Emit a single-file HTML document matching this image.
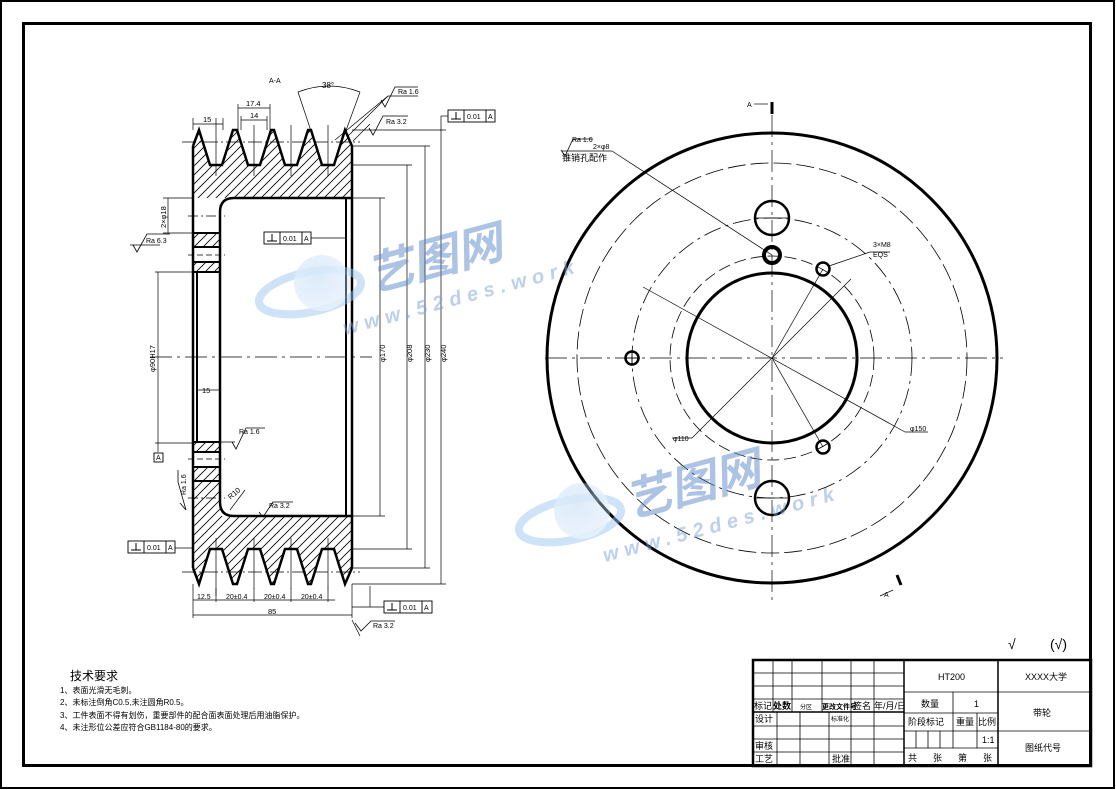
<!DOCTYPE html>
<html><head><meta charset="utf-8"><style>
html,body{margin:0;padding:0;background:#fff;}
svg{display:block;}
text{font-family:"Liberation Sans","Noto Sans CJK SC",sans-serif;fill:#000;}
.cn{font-family:"Liberation Sans","Noto Sans CJK SC",sans-serif;}
</style></head><body>
<svg width="1116" height="790" viewBox="0 0 1116 790" xmlns="http://www.w3.org/2000/svg">
<defs>
<pattern id="hs" width="9" height="9" patternUnits="userSpaceOnUse">
<path d="M0,9 L9,0 M-1,1 L1,-1 M8,10 L10,8" stroke="#000" stroke-width="0.8"/>
</pattern>
<pattern id="hb" width="9" height="9" patternUnits="userSpaceOnUse">
<path d="M0,0 L9,9 M-1,8 L1,10 M8,-1 L10,1" stroke="#000" stroke-width="0.8"/>
</pattern>
<radialGradient id="wg" cx="0.4" cy="0.4" r="0.6"><stop offset="0" stop-color="#a9cdf3"/><stop offset="1" stop-color="#cfe4fa"/></radialGradient>
</defs>
<rect x="1" y="1" width="1113" height="787" fill="none" stroke="#000" stroke-width="2"/>
<rect x="23.5" y="23.5" width="1067" height="742" fill="none" stroke="#000" stroke-width="3"/>

<!-- hatch top -->
<g fill="url(#hs)">
<path d="M193,198 L193,146 L199,130 L210,165 L222,165 L233,130 L237,130 L248,165 L260,165 L271,130 L274,130 L285,165 L297,165 L308,130 L311,130 L322,165 L334,165 L345,130 L352,146 L352,198 Z"/>
<rect x="193" y="233" width="27" height="14"/>
<rect x="193" y="262" width="27" height="10"/>
<path d="M193,516 L193,568 L199,584 L210,549 L222,549 L233,584 L237,584 L248,549 L260,549 L271,584 L274,584 L285,549 L297,549 L308,584 L311,584 L322,549 L334,549 L345,584 L352,568 L352,516 Z"/>
<rect x="193" y="467" width="27" height="49"/>
<rect x="193" y="442" width="27" height="10"/>
</g>
<g id="half">
<path d="M193,146 L199,130 L210,165 L222,165 L233,130 L237,130 L248,165 L260,165 L271,130 L274,130 L285,165 L297,165 L308,130 L311,130 L322,165 L334,165 L345,130 L352,146" fill="none" stroke="#000" stroke-width="2.5"/>
<line x1="193" y1="146" x2="193" y2="357" stroke="#000" stroke-width="2.5"/>
<line x1="352" y1="146" x2="352" y2="357" stroke="#000" stroke-width="2.5"/>
<line x1="346" y1="198" x2="346" y2="357" stroke="#000" stroke-width="2"/>
<path d="M220,357 L220,212 Q220,198 234,198 L352,198" fill="none" stroke="#000" stroke-width="2.5"/>
<line x1="193" y1="233" x2="220" y2="233" stroke="#000" stroke-width="2"/>
<line x1="193" y1="247" x2="220" y2="247" stroke="#000" stroke-width="2"/>
<line x1="193" y1="262" x2="220" y2="262" stroke="#000" stroke-width="2"/>
<line x1="193" y1="272" x2="220" y2="272" stroke="#000" stroke-width="2"/>
<line x1="197" y1="272" x2="197" y2="357" stroke="#000" stroke-width="2"/>
<line x1="188" y1="216" x2="225" y2="216" stroke="#000" stroke-width="0.7" stroke-dasharray="10,3,2,3"/>
<line x1="188" y1="255" x2="225" y2="255" stroke="#000" stroke-width="0.7" stroke-dasharray="6,3"/>
<line x1="182" y1="142" x2="360" y2="142" stroke="#000" stroke-width="0.7" stroke-dasharray="14,3,2,3"/>
<line x1="216" y1="118" x2="216" y2="176" stroke="#000" stroke-width="0.7"/>
<line x1="254" y1="125" x2="254" y2="176" stroke="#000" stroke-width="0.7"/>
<line x1="291" y1="125" x2="291" y2="176" stroke="#000" stroke-width="0.7"/>
<line x1="328" y1="125" x2="328" y2="176" stroke="#000" stroke-width="0.7"/>
</g>
<use href="#half" transform="matrix(1,0,0,-1,0,714)"/>
<line x1="193" y1="467" x2="220" y2="467" stroke="#000" stroke-width="2"/>
<line x1="150" y1="357" x2="372" y2="357" stroke="#000" stroke-width="0.7" stroke-dasharray="22,5,3,5"/>

<g stroke="#000" stroke-width="0.7" fill="none">
<line x1="352" y1="198" x2="385" y2="198"/><line x1="352" y1="516" x2="385" y2="516"/>
<line x1="380" y1="198" x2="380" y2="516"/>
<line x1="352" y1="165" x2="412" y2="165"/><line x1="352" y1="549" x2="412" y2="549"/>
<line x1="407" y1="165" x2="407" y2="549"/>
<line x1="352" y1="146" x2="430" y2="146"/><line x1="352" y1="568" x2="430" y2="568"/>
<line x1="425" y1="146" x2="425" y2="568"/>
<line x1="352" y1="130" x2="446" y2="130"/><line x1="352" y1="584" x2="446" y2="584"/>
<line x1="441" y1="130" x2="441" y2="584"/>
<line x1="441" y1="116" x2="441" y2="130"/><line x1="441" y1="116" x2="448" y2="116"/>
<line x1="158" y1="272" x2="158" y2="443"/><line x1="155" y1="272" x2="193" y2="272"/><line x1="155" y1="443" x2="193" y2="443"/>
<line x1="158" y1="443" x2="158" y2="452"/>
<line x1="168" y1="198" x2="168" y2="233"/><line x1="163" y1="198" x2="193" y2="198"/><line x1="163" y1="233" x2="193" y2="233"/>
<line x1="197" y1="390" x2="220" y2="390"/>
<line x1="193" y1="118" x2="193" y2="130"/><line x1="223" y1="118" x2="223" y2="130"/><line x1="193" y1="124" x2="223" y2="124"/>
<line x1="238" y1="104" x2="238" y2="130"/><line x1="270" y1="104" x2="270" y2="130"/><line x1="238" y1="108" x2="270" y2="108"/>
<line x1="241" y1="116" x2="241" y2="130"/><line x1="267" y1="116" x2="267" y2="130"/><line x1="241" y1="120" x2="267" y2="120"/>
<line x1="320" y1="158" x2="298" y2="92"/><line x1="336" y1="158" x2="360" y2="92"/>
<path d="M298,92 Q329,80 360,92"/>
<line x1="193" y1="584" x2="193" y2="618"/><line x1="352" y1="584" x2="352" y2="618"/>
<line x1="216" y1="588" x2="216" y2="602"/><line x1="254" y1="588" x2="254" y2="602"/><line x1="291" y1="588" x2="291" y2="602"/><line x1="328" y1="588" x2="328" y2="602"/>
<line x1="193" y1="600" x2="335" y2="600"/>
<line x1="193" y1="615" x2="352" y2="615"/>
<line x1="352" y1="607" x2="384" y2="607"/><line x1="370" y1="586" x2="370" y2="607"/>
<line x1="348" y1="136" x2="388" y2="96"/><line x1="335" y1="140" x2="388" y2="96"/><line x1="388" y1="96" x2="418" y2="96"/>
<line x1="353" y1="141" x2="370" y2="124"/><line x1="352" y1="620" x2="360" y2="636"/>
<line x1="130" y1="245" x2="160" y2="245"/>
<line x1="175" y1="548" x2="193" y2="548"/>
<line x1="311" y1="238" x2="345" y2="238"/>
<line x1="197" y1="442" x2="235" y2="442"/>
<line x1="230" y1="510" x2="245" y2="490"/>
</g>
<g fill="#000" font-size="7.5">
<text x="269" y="83" font-size="7">A-A</text>
<text x="322" y="88" font-size="8">38°</text>
<text x="203" y="122">15</text>
<text x="246" y="106">17.4</text>
<text x="250" y="118">14</text>
<text x="202" y="393">15</text>
<text transform="translate(385,362) rotate(-90)">φ170</text>
<text transform="translate(412,362) rotate(-90)">φ208</text>
<text transform="translate(430,362) rotate(-90)">φ230</text>
<text transform="translate(446,362) rotate(-90)">φ240</text>
<text transform="translate(155,372) rotate(-90)">φ90H17</text>
<text transform="translate(166,228) rotate(-90)">2×φ18</text>
<text x="197" y="599" font-size="7">12.5</text>
<text x="226" y="599" font-size="7">20±0.4</text>
<text x="264" y="599" font-size="7">20±0.4</text>
<text x="301" y="599" font-size="7">20±0.4</text>
<text x="268" y="614">85</text>
<text x="228" y="497" transform="rotate(-40,233,495)">R10</text>
</g>
<g stroke="#000" stroke-width="0.8" fill="none">
<path d="M381,100 L385,107 L395,87 L418,87"/><path d="M369,128 L373,135 L383,116 L408,116"/>
<path d="M133,245 L137,252 L147,234 L170,234"/>
<path d="M232,442 L236,449 L246,428 L265,428"/>
<path d="M259,512 L263,517 L273,502 L293,502"/>
<path d="M355,623 L361,631 L371,621 L395,621"/>
<path d="M180,503 L186,510 L178,482 L178,470"/>
</g>
<g font-size="7">
<text x="398" y="94">Ra 1.6</text><text x="386" y="124">Ra 3.2</text>
<text x="146" y="243">Ra 6.3</text><text x="239" y="434">Ra 1.6</text>
<text x="269" y="508">Ra 3.2</text><text x="373" y="628">Ra 3.2</text>
<text transform="translate(186,495) rotate(-90)">Ra 1.6</text>
</g>
<g stroke="#000" stroke-width="0.9" fill="#fff">
<rect x="448" y="110" width="47" height="12"/><line x1="464" y1="110" x2="464" y2="122"/><line x1="486" y1="110" x2="486" y2="122"/>
<rect x="264" y="232" width="47" height="12"/><line x1="280" y1="232" x2="280" y2="244"/><line x1="302" y1="232" x2="302" y2="244"/>
<rect x="128" y="541" width="47" height="12"/><line x1="144" y1="541" x2="144" y2="553"/><line x1="166" y1="541" x2="166" y2="553"/>
<rect x="384" y="601" width="48" height="12"/><line x1="400" y1="601" x2="400" y2="613"/><line x1="422" y1="601" x2="422" y2="613"/>
<rect x="154" y="453" width="9" height="9"/>
</g>
<g stroke="#000" stroke-width="1" fill="none">
<path d="M451,119 L461,119 M456,112 L456,119"/><path d="M267,241 L277,241 M272,234 L272,241"/>
<path d="M131,550 L141,550 M136,543 L136,550"/><path d="M387,610 L397,610 M392,603 L392,610"/>
</g>
<g font-size="7">
<text x="467" y="119">0.01</text><text x="488" y="119">A</text>
<text x="283" y="241">0.01</text><text x="304" y="241">A</text>
<text x="147" y="550">0.01</text><text x="168" y="550">A</text>
<text x="403" y="610">0.01</text><text x="424" y="610">A</text>
<text x="156" y="460">A</text>
</g>

<!-- ===== RIGHT VIEW ===== -->
<g fill="none" stroke="#000">
<circle cx="772" cy="358" r="225" stroke-width="3"/>
<circle cx="772" cy="358" r="195" stroke-width="0.8" stroke-dasharray="18,5"/>
<circle cx="772" cy="358" r="140" stroke-width="0.8" stroke-dasharray="18,5,3,5"/>
<circle cx="772" cy="358" r="102" stroke-width="0.8" stroke-dasharray="12,5"/>
<circle cx="772" cy="358" r="85" stroke-width="3"/>
<circle cx="772" cy="218" r="17" stroke-width="2.5"/>
<circle cx="772" cy="498" r="17" stroke-width="2.5"/>
<circle cx="772" cy="255" r="8" stroke-width="4"/>
<circle cx="823" cy="269" r="6.5" stroke-width="2.5"/>
<circle cx="823" cy="447" r="6.5" stroke-width="2.5"/>
<circle cx="632" cy="358" r="6.5" stroke-width="2.5"/>
<g stroke-width="0.7">
<line x1="545" y1="358" x2="1003" y2="358" stroke-dasharray="22,5,3,5"/>
<line x1="772" y1="115" x2="772" y2="600" stroke-dasharray="22,5,3,5"/>
<line x1="624" y1="358" x2="640" y2="358"/><line x1="632" y1="350" x2="632" y2="366"/>
<line x1="755" y1="218" x2="789" y2="218"/>
<line x1="755" y1="498" x2="789" y2="498"/>
<line x1="772" y1="358" x2="823" y2="269"/><line x1="772" y1="358" x2="823" y2="447"/>
<line x1="772" y1="358" x2="851" y2="279"/><line x1="772" y1="358" x2="692" y2="438"/>
<line x1="643" y1="287" x2="905" y2="432"/><line x1="905" y1="432" x2="928" y2="432"/>
<line x1="692" y1="438" x2="672" y2="438"/>
<line x1="612" y1="151" x2="772" y2="255"/><line x1="562" y1="151" x2="612" y2="151"/>
<line x1="829" y1="266" x2="870" y2="252"/><line x1="870" y1="252" x2="890" y2="252"/>
<line x1="754" y1="104" x2="768" y2="104"/>
<line x1="893" y1="590" x2="880" y2="596"/>
</g>
<line x1="772" y1="102" x2="772" y2="114" stroke-width="3"/>
<path d="M897,575 L901,585" stroke-width="3"/>
<path d="M561,150 L565,156 L573,139 L593,139" stroke-width="0.8"/>
</g>
<g font-size="7">
<text x="747" y="107">A</text><text x="884" y="597">A</text>
<text x="593" y="149">2×φ8</text>
<text x="562" y="161" font-size="9">锥销孔配作</text>
<text x="572" y="142">Ra 1.6</text>
<text x="873" y="247">3×M8</text><text x="873" y="257">EQS</text>
<text x="673" y="441">φ110</text><text x="910" y="431">φ150</text>
</g>

<g opacity="0.5">
<ellipse cx="310" cy="292" rx="52" ry="20" fill="none" stroke="#9cc6f0" stroke-width="8" transform="rotate(-12,310,292)"/>
<circle cx="322" cy="283" r="28" fill="url(#wg)" opacity="0.8"/>
<text x="372" y="292" font-size="46" font-weight="bold" font-style="italic" style="fill:#5a86c9" transform="rotate(-15,372,292)" class="cn">艺图网</text>
<text x="345" y="335" font-size="20" font-weight="bold" font-style="italic" style="fill:#7aa0d6;letter-spacing:6px" transform="rotate(-15,345,335)">www.52des.work</text>
<ellipse cx="570" cy="520" rx="52" ry="20" fill="none" stroke="#9cc6f0" stroke-width="8" transform="rotate(-12,570,520)"/>
<circle cx="582" cy="511" r="28" fill="url(#wg)" opacity="0.8"/>
<text x="630" y="518" font-size="46" font-weight="bold" font-style="italic" style="fill:#5a86c9" transform="rotate(-15,630,518)" class="cn">艺图网</text>
<text x="605" y="562" font-size="20" font-weight="bold" font-style="italic" style="fill:#7aa0d6;letter-spacing:6px" transform="rotate(-15,605,562)">www.52des.work</text>
</g>

<text x="1008" y="649" font-size="14">√</text>
<text x="1050" y="649" font-size="14">(√)</text>

<g class="cn" font-size="8">
<text x="70" y="680" font-size="12">技术要求</text>
<text x="60" y="693">1、表面光滑无毛刺。</text>
<text x="60" y="705">2、未标注倒角C0.5,未注圆角R0.5。</text>
<text x="60" y="718">3、工件表面不得有划伤，重要部件的配合面表面处理后用油脂保护。</text>
<text x="60" y="730">4、未注形位公差应符合GB1184-80的要求。</text>
</g>

<g stroke="#000" fill="none">
<rect x="753" y="660" width="338" height="106" stroke-width="2.5"/>
<g stroke-width="0.8">
<line x1="904" y1="660" x2="904" y2="766" stroke-width="1.5"/>
<line x1="998" y1="660" x2="998" y2="766" stroke-width="1.5"/>
<line x1="753" y1="673" x2="904" y2="673"/><line x1="753" y1="686" x2="904" y2="686"/>
<line x1="753" y1="699" x2="904" y2="699"/><line x1="753" y1="712" x2="904" y2="712" stroke-width="1.5"/>
<line x1="753" y1="726" x2="904" y2="726"/><line x1="753" y1="739" x2="904" y2="739"/><line x1="753" y1="752" x2="904" y2="752"/>
<line x1="773" y1="660" x2="773" y2="712"/><line x1="792" y1="660" x2="792" y2="712"/><line x1="822" y1="660" x2="822" y2="712"/>
<line x1="851" y1="660" x2="851" y2="766"/><line x1="874" y1="660" x2="874" y2="766"/>
<line x1="777" y1="712" x2="777" y2="766"/><line x1="800" y1="712" x2="800" y2="766"/><line x1="829" y1="712" x2="829" y2="766"/>
<line x1="904" y1="692" x2="1091" y2="692"/>
<line x1="904" y1="713" x2="998" y2="713"/>
<line x1="904" y1="731" x2="1091" y2="731"/>
<line x1="904" y1="748" x2="998" y2="748"/>
<line x1="953" y1="692" x2="953" y2="748"/><line x1="977" y1="713" x2="977" y2="748"/>
<line x1="916" y1="731" x2="916" y2="748"/><line x1="928" y1="731" x2="928" y2="748"/><line x1="940" y1="731" x2="940" y2="748"/>
</g>
</g>
<g class="cn" font-size="9">
<text x="938" y="680" font-size="9">HT200</text>
<text x="1025" y="680">XXXX大学</text>
<text x="921" y="707">数量</text><text x="974" y="707">1</text>
<text x="1033" y="716">带轮</text>
<text x="908" y="725">阶段标记</text><text x="956" y="725">重量</text><text x="978" y="725">比例</text>
<text x="982" y="743">1:1</text>
<text x="1025" y="751">图纸代号</text>
<text x="908" y="761">共</text><text x="933" y="761">张</text><text x="958" y="761">第</text><text x="983" y="761">张</text>
<text x="754" y="709">标记</text><text x="773" y="709" font-weight="bold">处数</text><text x="800" y="709" font-size="6">分区</text>
<text x="822" y="709" font-size="7" font-weight="bold">更改文件号</text><text x="853" y="709">签名</text><text x="874" y="709">年/月/日</text>
<text x="755" y="722">设计</text><text x="831" y="721" font-size="6">标准化</text>
<text x="755" y="749">审核</text><text x="755" y="762">工艺</text><text x="832" y="762">批准</text>
</g>
</svg>
</body></html>
